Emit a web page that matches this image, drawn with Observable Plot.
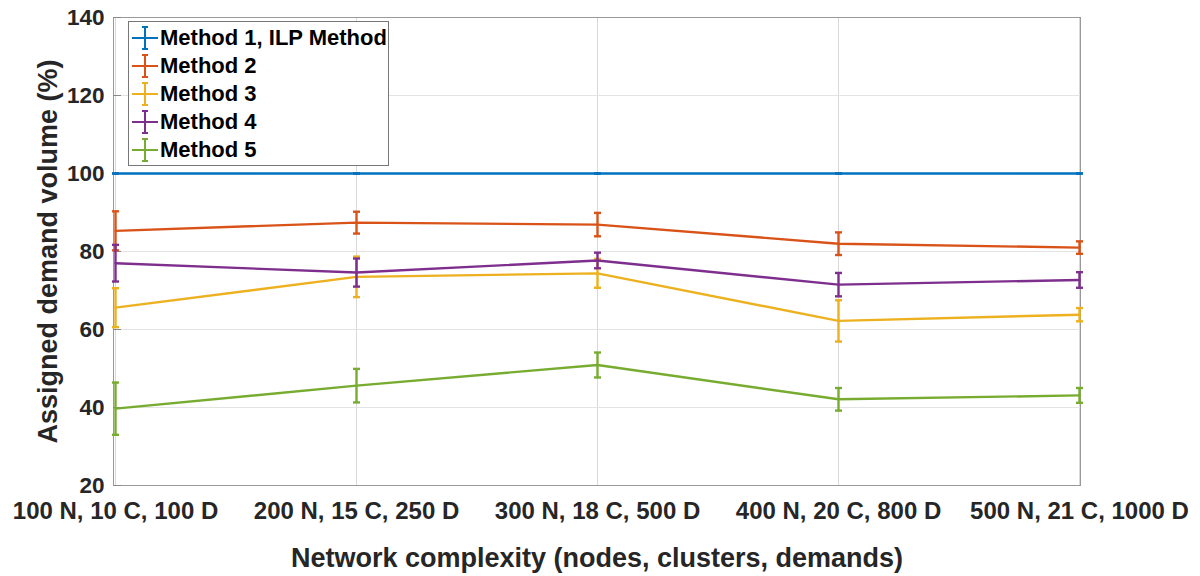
<!DOCTYPE html>
<html>
<head>
<meta charset="utf-8">
<script src="https://cdn.jsdelivr.net/npm/d3@7"></script>
<script src="https://cdn.jsdelivr.net/npm/@observablehq/plot@0.6"></script>
<style>
  html, body { margin: 0; padding: 0; background: #fff; }
  #wrap { position: relative; width: 1200px; height: 576px; font-family: "Liberation Sans", Arial, sans-serif; }
  #legend { position: absolute; left: 128px; top: 21px; width: 259px; height: 141px; border: 1px solid #777; background: #fff; padding-top: 2px; box-sizing: content-box; }
  .row { height: 28px; display: flex; align-items: center; font-weight: bold; font-size: 22px; color: #000; white-space: nowrap; }
  .row svg { margin-left: 2px; margin-right: 1px; flex: none; }
</style>
</head>
<body>
<div id="wrap"><div id="legend"></div></div>
<script>
const categories = ["100 N, 10 C, 100 D", "200 N, 15 C, 250 D", "300 N, 18 C, 500 D", "400 N, 20 C, 800 D", "500 N, 21 C, 1000 D"];
const methods = ["Method 1, ILP Method", "Method 2", "Method 3", "Method 4", "Method 5"];
const colors = ["#0072BD", "#D95319", "#EDB120", "#7E2F8E", "#77AC30"];
const method1 = [100, 100, 100, 100, 100];
const method1Err = [0, 0, 0, 0, 0];
const method2 = [85.3, 87.4, 86.9, 82.0, 81.0];
const method2Err = [5.0, 2.8, 3.0, 2.9, 1.6];
const method3 = [65.6, 73.5, 74.4, 62.2, 63.8];
const method3Err = [5.0, 5.2, 3.7, 5.3, 1.7];
const method4 = [77.0, 74.6, 77.7, 71.5, 72.7];
const method4Err = [4.7, 3.6, 2.0, 3.0, 2.0];
const method5 = [39.7, 45.6, 50.9, 42.1, 43.1];
const method5Err = [6.7, 4.3, 3.2, 2.9, 1.9];
const yTicks = [20, 40, 60, 80, 100, 120, 140];

const seriesValues = [method1, method2, method3, method4, method5];
const seriesErrors = [method1Err, method2Err, method3Err, method4Err, method5Err];

const capSymbol = { draw(ctx, size) { ctx.moveTo(-3.5, 0); ctx.lineTo(3.5, 0); } };

const seriesMarks = methods.flatMap((m, i) => {
  const rows = categories.map((c, j) => ({
    cat: c, method: m, v: seriesValues[i][j],
    lo: seriesValues[i][j] - seriesErrors[i][j],
    hi: seriesValues[i][j] + seriesErrors[i][j]
  }));
  return [
    Plot.line(rows, { x: "cat", y: "v", stroke: "method", strokeWidth: 2.4 }),
    Plot.ruleX(rows, { x: "cat", y1: "lo", y2: "hi", stroke: "method", strokeWidth: 2.4 }),
    Plot.dot(rows, { x: "cat", y: "lo", stroke: "method", symbol: capSymbol, strokeWidth: 2.4, fill: "none", r: 3 }),
    Plot.dot(rows, { x: "cat", y: "hi", stroke: "method", symbol: capSymbol, strokeWidth: 2.4, fill: "none", r: 3 })
  ];
});

const chart = Plot.plot({
  width: 1200,
  height: 576,
  marginLeft: 113,
  marginRight: 120,
  marginTop: 17,
  marginBottom: 91,
  style: { fontFamily: "'Liberation Sans', Arial, sans-serif", color: "#262626", background: "#fff" },
  x: { type: "point", domain: categories, padding: 0 },
  y: { domain: [20, 140] },
  color: { domain: methods, range: colors },
  marks: [
    Plot.gridX(categories, { stroke: "#d9d9d9", strokeOpacity: 1 }),
    Plot.gridY(yTicks, { stroke: "#e3e3e3", strokeOpacity: 1 }),
    Plot.frame({ stroke: "#999" }),
    Plot.axisY({ ticks: yTicks, tickSize: 0, tickPadding: 9, fontSize: 22.5, fontWeight: "bold", label: null }),
    Plot.axisY({ ticks: yTicks, tickSize: -8, tickFormat: () => "", label: null, stroke: "#888" }),
    Plot.axisY({ ticks: [], tickSize: 0, label: "Assigned demand volume (%)", labelAnchor: "center", labelArrow: "none", labelOffset: 76, fontSize: 27, fontWeight: "bold" }),
    Plot.axisX({ tickSize: 0, tickPadding: 16, fontSize: 24, fontWeight: "bold", label: null }),
    Plot.axisX({ ticks: [], tickSize: 0, label: "Network complexity (nodes, clusters, demands)", labelAnchor: "center", labelArrow: "none", labelOffset: 81, fontSize: 27, fontWeight: "bold" }),
    ...seriesMarks
  ]
});

const wrap = document.getElementById("wrap");
wrap.insertBefore(chart, wrap.firstChild);

const legend = document.getElementById("legend");
methods.forEach((m, i) => {
  const row = document.createElement("div");
  row.className = "row";
  const c = colors[i];
  row.innerHTML = `<svg width="28" height="28" viewBox="0 0 28 28">
    <line x1="1" y1="14" x2="27" y2="14" stroke="${c}" stroke-width="2"/>
    <line x1="14" y1="3" x2="14" y2="25" stroke="${c}" stroke-width="2"/>
    <line x1="11" y1="3" x2="17" y2="3" stroke="${c}" stroke-width="2"/>
    <line x1="11" y1="25" x2="17" y2="25" stroke="${c}" stroke-width="2"/>
  </svg><span>${m}</span>`;
  legend.appendChild(row);
});
</script>
</body>
</html>
